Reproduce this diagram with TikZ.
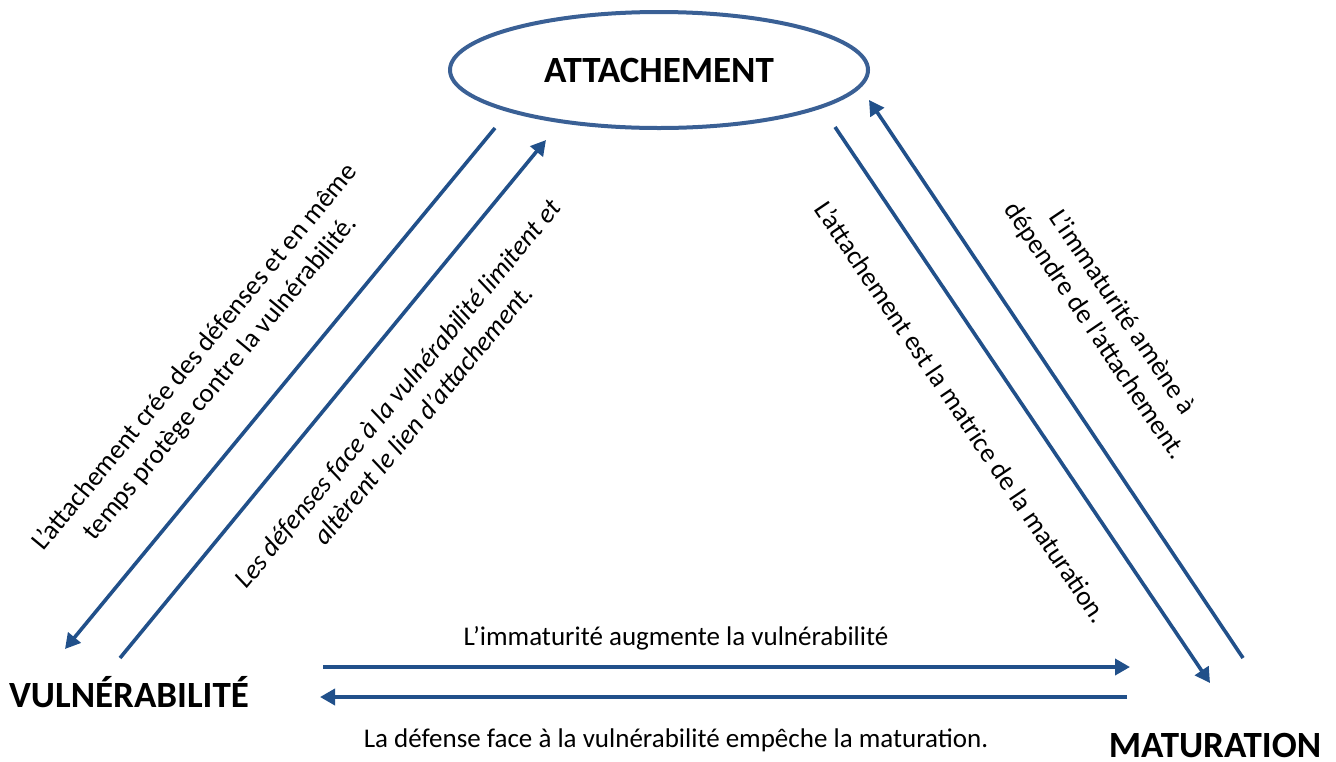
\documentclass[tikz,border=0pt]{standalone}
\usepackage{fontspec}
\setmainfont{Carlito}
\usetikzlibrary{arrows.meta,shapes.geometric}
\definecolor{ovalblue}{HTML}{3A6095}
\definecolor{arrowblue}{HTML}{21508A}
\tikzset{
  pole/.style={font=\fontsize{18.5}{22}\selectfont\bfseries},
  lien/.style={font=\fontsize{13.5}{16.5}\selectfont,align=center,inner sep=0pt},
  fleche/.style={draw=arrowblue,line width=1.8pt,-{Triangle[length=7.5pt,width=8pt]}}
}
\begin{document}
\begin{tikzpicture}[x=0.5pt,y=-0.5pt]
  \useasboundingbox (0,0) rectangle (1336,761);
      \node[pole,draw=ovalblue,line width=2pt,ellipse,minimum width=209pt,minimum height=58pt] (att) at (659,70) {ATTACHEMENT};
        \node[pole] (vul) at (129,692) {VULNÉRABILITÉ};
          \node[pole] (mat) at (1215,745) {MATURATION};
      \coordinate (A1) at (495,128);
        \coordinate (A2) at (65,649);
          \coordinate (B1) at (120,658);
            \coordinate (B2) at (546,140);
              \coordinate (C1) at (835,127);
                \coordinate (C2) at (1210,683);
                  \coordinate (D1) at (1243,658);
                    \coordinate (D2) at (869,100);
                      \coordinate (E1) at (323,667);
                        \coordinate (E2) at (1130,667);
                          \coordinate (F1) at (1127,697);
                            \coordinate (F2) at (320,697);

  \draw[fleche] (A1)--(A2);
  \draw[fleche] (B1)--(B2);
  \draw[fleche] (C1)--(C2);
  \draw[fleche] (D1)--(D2);
  \draw[fleche] (E1)--(E2);
  \draw[fleche] (F1)--(F2);

  \node[lien,rotate=50.4] (t1) at (208,368) {L’attachement crée des défenses et en même\\temps protège contre la vulnérabilité.};
  \node[lien,rotate=50.4,font=\fontsize{13.5}{16.5}\selectfont\itshape] (t2) at (410,404) {Les défenses face à la vulnérabilité limitent et\\altèrent le lien d’attachement.};
  \node[lien,rotate=-56] (t3) at (962,412) {L’attachement est la matrice de la maturation.};
  \node[lien,rotate=-56] (t4) at (1108,322) {L’immaturité amène à\\dépendre de l’attachement.};
  \node[lien] (t5) at (676,638) {L’immaturité augmente la vulnérabilité};
  \node[lien] (t6) at (676,740) {La défense face à la vulnérabilité empêche la maturation.};
\end{tikzpicture}
\end{document}
